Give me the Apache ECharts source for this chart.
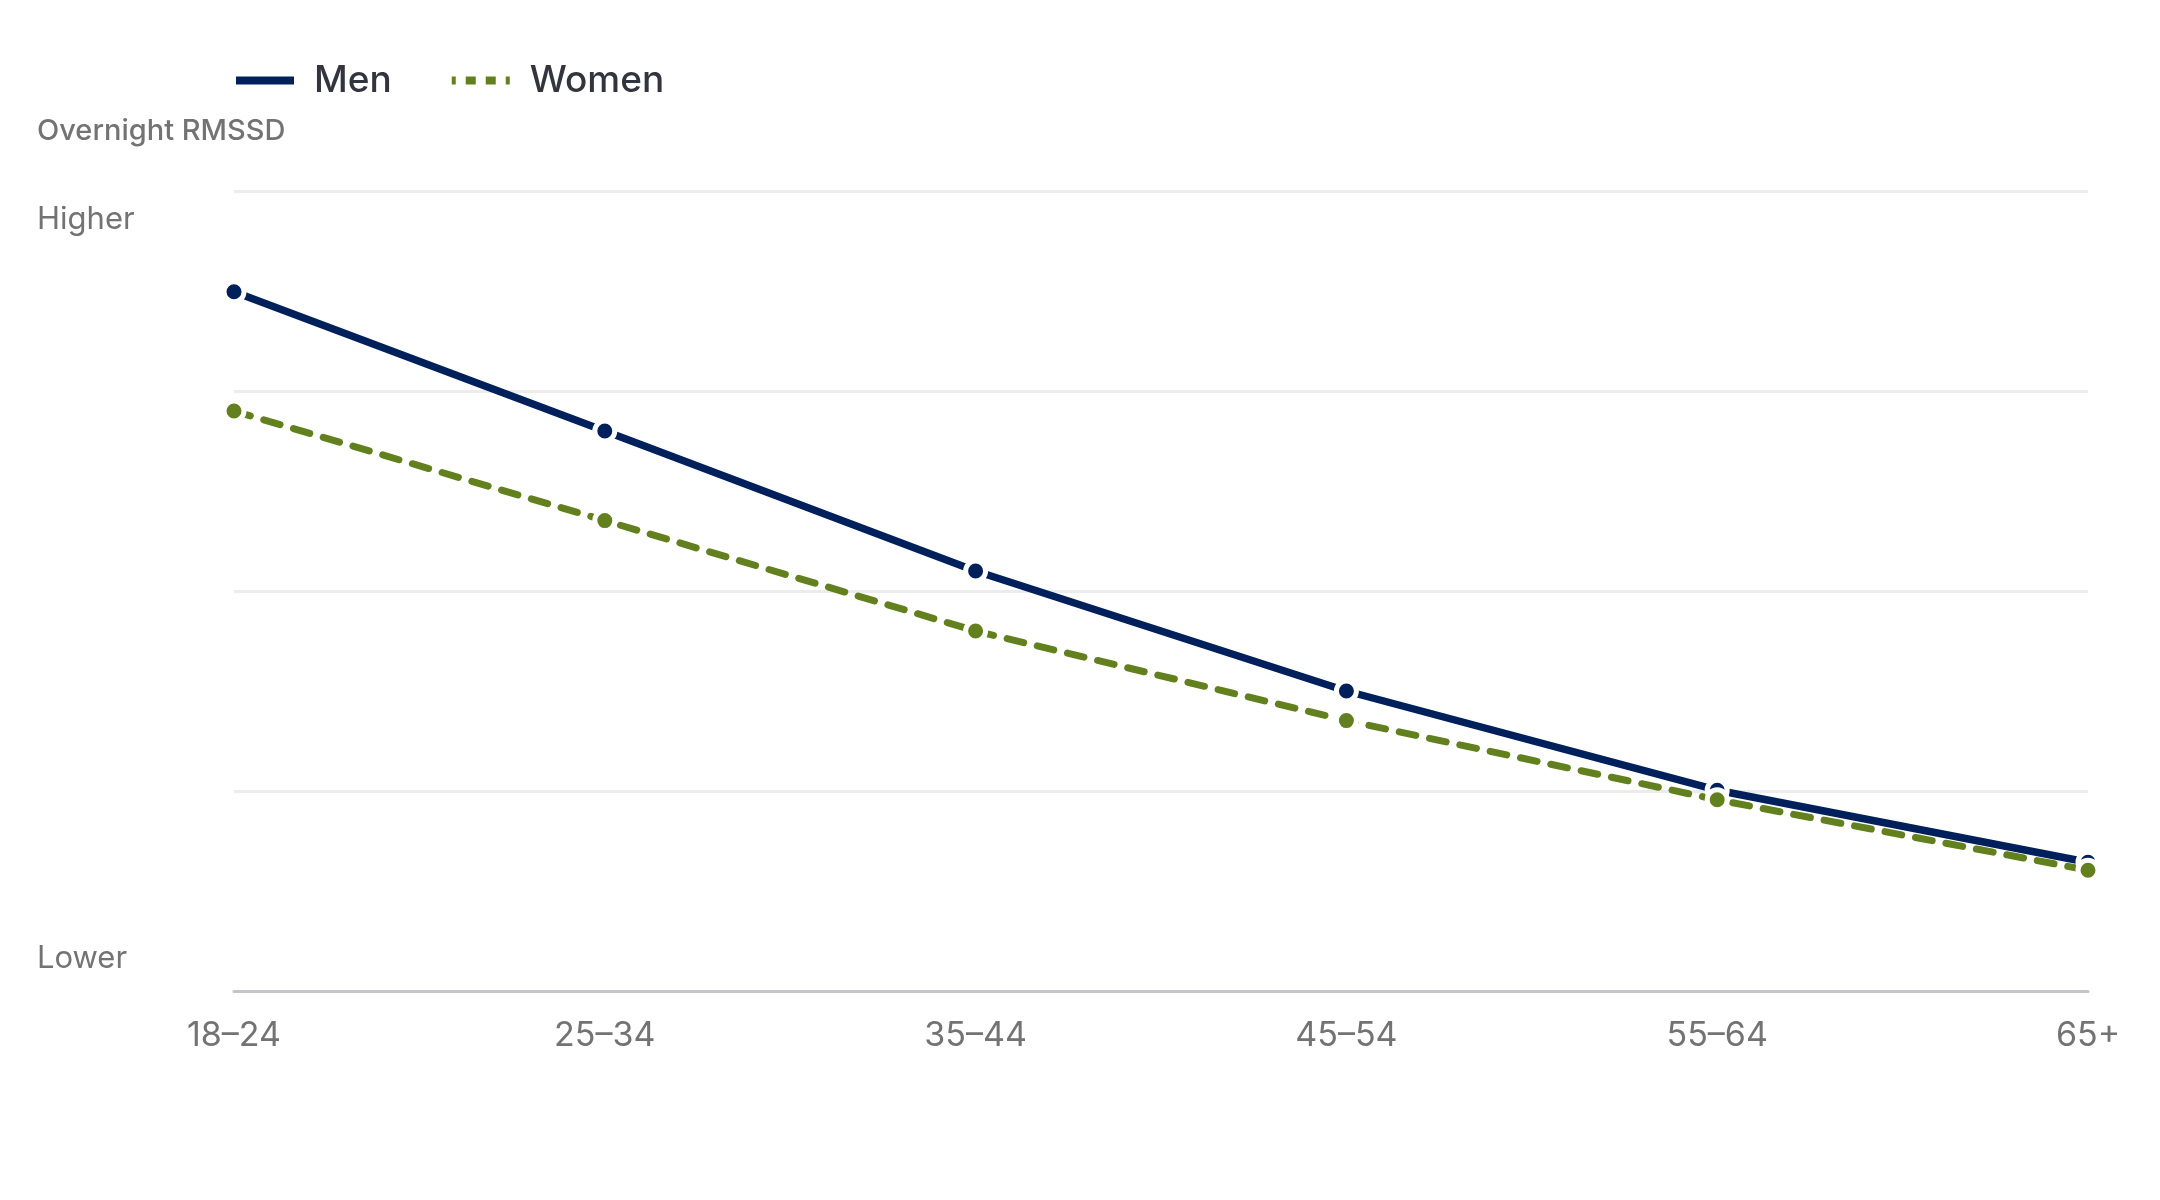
<!DOCTYPE html>
<html lang="en">

<head>
    <meta charset="UTF-8">
    <title>Overnight RMSSD by age</title>
    <script src="https://cdn.jsdelivr.net/npm/echarts@6/dist/echarts.min.js"></script>
    <style>
        html, body { margin: 0; padding: 0; background: #fff; }
        #main { width: 2160px; height: 1200px; }
    </style>
</head>

<body>
    <div id="main"></div>
    <script>
        // age groups on the x axis
        var ageGroups = ['18–24', '25–34', '35–44', '45–54', '55–64', '65+'];
        // relative RMSSD level, 0 = "Lower", 100 = "Higher"
        var menValues = [87.4, 70.0, 52.5, 37.5, 25.1, 16.1];
        var womenValues = [72.5, 58.8, 45.0, 33.8, 23.9, 15.1];
        var yTicks = { 0: 'Lower', 100: 'Higher' };

        var navy = '#00205b';
        var olive = '#62801e';
        var font = 'Inter, "Noto Sans", sans-serif';

        var myChart = echarts.init(document.getElementById('main'));

        var option = {
            backgroundColor: '#fff',
            animation: false,
            textStyle: { fontFamily: font },
            title: {
                text: 'Overnight RMSSD',
                left: 37,
                top: 117,
                padding: 0,
                textStyle: { fontSize: 29, fontWeight: 500, color: '#737373', fontFamily: font }
            },
            legend: {
                left: 234,
                top: 62,
                padding: 0,
                itemWidth: 60,
                itemHeight: 10,
                itemGap: 58,
                textStyle: {
                    fontSize: 37,
                    fontWeight: 500,
                    color: '#34343e',
                    fontFamily: font,
                    padding: [0, 0, 0, 14]
                },
                data: [
                    { name: 'Men', icon: 'path://M0,0h60v10h-60z', itemStyle: { color: navy } },
                    {
                        name: 'Women',
                        icon: 'path://M0,0h6v10h-6z M14,0h12v10h-12z M34,0h12v10h-12z M54,0h6v10h-6z',
                        itemStyle: { color: olive }
                    }
                ]
            },
            grid: { left: 234, right: 72, top: 191, bottom: 209 },
            xAxis: {
                type: 'category',
                data: ageGroups,
                boundaryGap: false,
                axisLine: { lineStyle: { color: '#c4c4cc', width: 3 } },
                axisTick: { show: false },
                axisLabel: { fontSize: 34, color: '#737373', margin: 28, fontFamily: font }
            },
            yAxis: {
                type: 'value',
                min: 0,
                max: 100,
                interval: 25,
                axisLine: { show: false },
                axisTick: { show: false },
                splitLine: { lineStyle: { color: '#ececec', width: 3 } },
                axisLabel: {
                    align: 'left',
                    margin: 197,
                    formatter: function (v) {
                        if (v === 100) return '{hi|' + yTicks[v] + '}';
                        if (v === 0) return '{lo|' + yTicks[v] + '}';
                        return '';
                    },
                    rich: {
                        hi: { fontSize: 31, color: '#737373', fontFamily: font, padding: [58, 0, 0, 0] },
                        lo: { fontSize: 31, color: '#737373', fontFamily: font, padding: [0, 0, 64, 0] }
                    }
                }
            },
            series: [
                {
                    name: 'Men',
                    type: 'line',
                    data: menValues,
                    symbol: 'circle',
                    symbolSize: 20,
                    lineStyle: { color: navy, width: 7.5 },
                    itemStyle: { color: navy, borderColor: '#fff', borderWidth: 5 }
                },
                {
                    name: 'Women',
                    type: 'line',
                    data: womenValues,
                    symbol: 'circle',
                    symbolSize: 20,
                    lineStyle: { color: olive, width: 7, type: [17, 14], cap: 'round' },
                    itemStyle: { color: olive, borderColor: '#fff', borderWidth: 5 }
                }
            ]
        };

        myChart.setOption(option);
    </script>
</body>

</html>
